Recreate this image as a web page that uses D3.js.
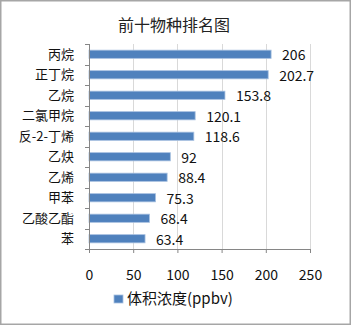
<!DOCTYPE html>
<html>
<head>
<meta charset="utf-8">
<script src="https://cdn.jsdelivr.net/npm/d3@7"></script>
<style>
  body { margin: 0; background: #fff; }
  svg { display: block; font-family: "Noto Sans CJK SC", "Noto Sans", sans-serif; }
</style>
</head>
<body>
<svg width="351" height="325"></svg>
<script>
// chart data
const species = ["丙烷", "正丁烷", "乙烷", "二氯甲烷", "反-2-丁烯", "乙炔", "乙烯", "甲苯", "乙酸乙酯", "苯"];
const values = [206, 202.7, 153.8, 120.1, 118.6, 92, 88.4, 75.3, 68.4, 63.4];
const xTicks = [0, 50, 100, 150, 200, 250];
const titleText = "前十物种排名图";
const legendText = "体积浓度(ppbv)";

const svg = d3.select("svg"),
    W = +svg.attr("width"),
    H = +svg.attr("height"),
    margin = {top: 44, right: 41, bottom: 76, left: 89},
    width = W - margin.left - margin.right,
    height = H - margin.top - margin.bottom;

const barColor = "#4f81bd";

// outer frame
svg.append("rect")
  .attr("x", 0.75).attr("y", 0.75)
  .attr("width", W - 1.5).attr("height", H - 1.5)
  .attr("fill", "#fff")
  .attr("stroke", "#a6a6a6")
  .attr("stroke-width", 1.5);

svg.append("text")
  .attr("x", 174).attr("y", 31)
  .attr("text-anchor", "middle")
  .style("font-size", "16px")
  .style("fill", "#222")
  .text(titleText);

const g = svg.append("g")
  .attr("transform", "translate(" + margin.left + "," + margin.top + ")");

let x = d3.scaleLinear().domain([0, 250]).range([0, width]);
let y = d3.scaleBand().domain(species).range([0, height]).paddingInner(0.6).paddingOuter(0.3);

// gridlines
g.append("g")
  .selectAll("line")
  .data(xTicks.slice(1))
  .enter().append("line")
  .attr("x1", d => Math.round(x(d)) + 0.5)
  .attr("x2", d => Math.round(x(d)) + 0.5)
  .attr("y1", 0).attr("y2", height)
  .attr("stroke", "#d9d9d9");

// bars
g.append("g")
  .selectAll("rect")
  .data(species)
  .enter().append("rect")
  .attr("x", x(0))
  .attr("y", d => y(d))
  .attr("width", (d, i) => x(values[i]))
  .attr("height", y.bandwidth())
  .attr("fill", barColor)
  .attr("stroke", "#a7c0e0")
  .attr("stroke-width", 0.8);

// value labels
g.append("g")
  .selectAll("text")
  .data(species)
  .enter().append("text")
  .attr("x", (d, i) => x(values[i]) + 11)
  .attr("y", d => y(d) + y.bandwidth() / 2 + 1)
  .attr("dy", "0.36em")
  .style("font-size", "14px")
  .style("fill", "#111")
  .text((d, i) => values[i]);

// x axis
const xAxis = g.append("g")
  .attr("transform", "translate(0," + height + ")")
  .call(d3.axisBottom(x).tickValues(xTicks).tickSize(4).tickSizeOuter(0).tickPadding(17));
xAxis.select(".domain").attr("stroke", "#868686");
xAxis.selectAll(".tick line").attr("stroke", "#868686");
xAxis.selectAll(".tick text")
  .style("font-size", "14px")
  .style("font-family", "'Noto Sans CJK SC', sans-serif")
  .attr("fill", "#111");

// y axis with ticks between categories
const yAxis = g.append("g");
yAxis.append("line")
  .attr("x1", 0.5).attr("x2", 0.5)
  .attr("y1", 0).attr("y2", height)
  .attr("stroke", "#868686");
yAxis.selectAll("line.tk")
  .data(d3.range(species.length + 1))
  .enter().append("line")
  .attr("class", "tk")
  .attr("x1", -4).attr("x2", 0.5)
  .attr("y1", i => Math.round(i * height / species.length) + 0.5)
  .attr("y2", i => Math.round(i * height / species.length) + 0.5)
  .attr("stroke", "#868686");
yAxis.selectAll("text")
  .data(species)
  .enter().append("text")
  .attr("x", -15)
  .attr("y", d => y(d) + y.bandwidth() / 2)
  .attr("dy", "0.36em")
  .attr("text-anchor", "end")
  .style("font-size", "13px")
  .style("fill", "#111")
  .text(d => d);

// legend
const legend = svg.append("g").attr("transform", "translate(114,295)");
legend.append("rect")
  .attr("width", 9).attr("height", 8)
  .attr("fill", barColor)
  .attr("stroke", "#a7c0e0")
  .attr("stroke-width", 0.8);
legend.append("text")
  .attr("x", 13).attr("y", 4)
  .attr("dy", "0.36em")
  .style("font-size", "15px")
  .style("fill", "#111")
  .text(legendText);
</script>
</body>
</html>
